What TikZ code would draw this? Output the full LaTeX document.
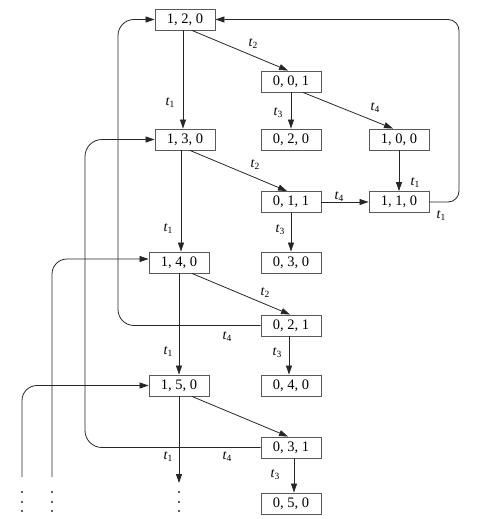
\documentclass[tikz,border=0pt]{standalone}
\usepackage{fontspec}
\setmainfont{Liberation Serif}
\usetikzlibrary{arrows.meta}
\newcommand{\tlab}[1]{{\fontsize{14}{14}\selectfont\itshape t}\raisebox{-0.45ex}{\fontsize{9.5}{9.5}\selectfont #1}}
\begin{document}
\begin{tikzpicture}[x=1pt,y=-1pt,
  state/.style={draw=black!65,line width=0.9pt,minimum width=60pt,minimum height=21pt,inner sep=0pt,font=\fontsize{14.5}{14.5}\selectfont},
  arr/.style={draw=black!85,line width=0.8pt,-{Triangle[length=9pt,width=6pt]}},
  ln/.style={draw=black!85,line width=0.8pt},
  lab/.style={inner sep=0pt}]
\useasboundingbox (0,0) rectangle (493,519);
% states
\node[state] (n120) at (185,19.5) {1, 2, 0};
\node[state] (n001) at (291,81.5) {0, 0, 1};
\node[state] (n130) at (185,139.5) {1, 3, 0};
\node[state] (n020) at (291,139.5) {0, 2, 0};
\node[state] (n100) at (399,139.5) {1, 0, 0};
\node[state] (n011) at (291,202) {0, 1, 1};
\node[state] (n110) at (399,202) {1, 1, 0};
\node[state] (n140) at (179,262.5) {1, 4, 0};
\node[state] (n030) at (291,262.5) {0, 3, 0};
\node[state] (n021) at (291,325.5) {0, 2, 1};
\node[state] (n150) at (179,385.5) {1, 5, 0};
\node[state] (n040) at (291,385.5) {0, 4, 0};
\node[state] (n031) at (291,447.5) {0, 3, 1};
\node[state] (n050) at (291,503.5) {0, 5, 0};
% free ends
\coordinate (down) at (179,483);
\coordinate (lin1) at (52,477);
\coordinate (lin2) at (22,477);
% vertical arrows
\draw[arr] ([xshift=-2]n120.south) -- ([xshift=-2]n130.north);
\draw[arr] ([xshift=-4]n130.south) -- ([xshift=2]n140.north);
\draw[arr] (n140.south) -- (n150.north);
\draw[arr] (n150.south) -- (down);
\draw[arr] (n001.south) -- (n020.north);
\draw[arr] (n100.south) -- (n110.north);
\draw[arr] (n011.south) -- (n030.north);
\draw[arr] ([xshift=-2]n021.south) -- ([xshift=-2]n040.north);
\draw[arr] ([xshift=3]n031.south) -- ([xshift=3]n050.north);
% diagonal arrows
\draw[arr] ([xshift=7]n120.south) -- ([xshift=-3]n001.north);
\draw[arr] ([xshift=12]n001.south) -- ([xshift=-6]n100.north);
\draw[arr] ([xshift=5]n130.south) -- ([xshift=-4]n011.north);
\draw[arr] ([xshift=13]n140.south) -- ([xshift=-1]n021.north);
\draw[arr] ([xshift=13]n150.south) -- ([xshift=-3]n031.north);
% horizontal
\draw[arr] (n011.east) -- (n110.west);
% loops
\draw[arr,rounded corners=11pt] (n110.east) -- (459,202) -- (459,19.5) -- (n120.east);
\draw[arr,rounded corners=16pt] (n021.west) -- (118,325.5) -- (118,19.5) -- (n120.west);
\draw[arr,rounded corners=17pt] (n031.west) -- (85,447.5) -- (85,139.5) -- (n130.west);
\draw[arr,rounded corners=15pt] (lin1) -- (52,259) -- ([yshift=3.5]n140.west);
\draw[arr,rounded corners=15pt] (lin2) -- (22,385.5) -- (n150.west);
% dots
\foreach \x in {22,52,179}{
  \foreach \y in {492,502,511}{
    \fill[black!85] (\x,\y) circle (1.2pt);
  }
}
% labels
\node[lab] (l1) at (170,103) {\tlab{1}};
\node[lab] (l2) at (253,44) {\tlab{2}};
\node[lab] (l3) at (278,113) {\tlab{3}};
\node[lab] (l4) at (375,108) {\tlab{4}};
\node[lab] (l5) at (415,183) {\tlab{1}};
\node[lab] (l6) at (255,165) {\tlab{2}};
\node[lab] (l7) at (339,197) {\tlab{4}};
\node[lab] (l8) at (441,216) {\tlab{1}};
\node[lab] (l9) at (168,229) {\tlab{1}};
\node[lab] (l10) at (280,230) {\tlab{3}};
\node[lab] (l11) at (265,293) {\tlab{2}};
\node[lab] (l12) at (227,337) {\tlab{4}};
\node[lab] (l13) at (168,352) {\tlab{1}};
\node[lab] (l14) at (277,353) {\tlab{3}};
\node[lab] (l15) at (168,457) {\tlab{1}};
\node[lab] (l16) at (227,457) {\tlab{4}};
\node[lab] (l17) at (275,475) {\tlab{3}};
\end{tikzpicture}
\end{document}
